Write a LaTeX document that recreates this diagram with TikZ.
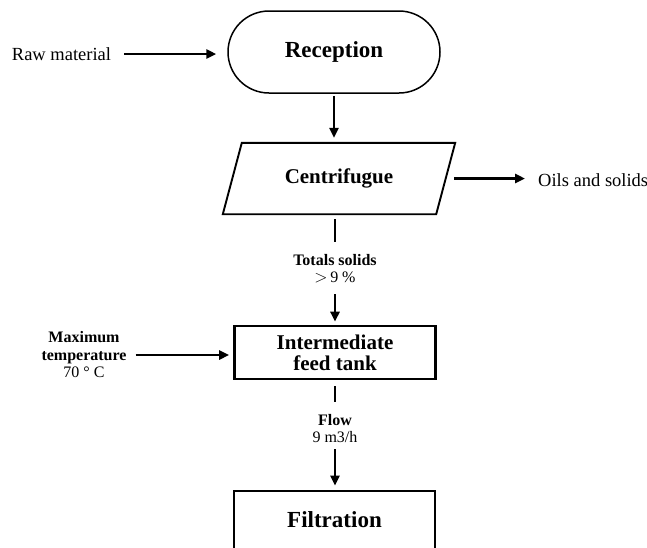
\documentclass[tikz,border=0pt]{standalone}
\usepackage{fontspec}
\setmainfont{Liberation Serif}
\usetikzlibrary{arrows.meta}
\begin{document}
\begin{tikzpicture}[x=1pt,y=-1pt,
  arr/.style={line width=2.7pt,-{Triangle[length=10pt,width=9pt]}},
  seg/.style={line width=2.7pt},
  lab/.style={inner sep=0pt,align=center,font=\fontsize{16}{17.5}\selectfont},
  side/.style={inner sep=0pt,font=\fontsize{18.5}{20}\selectfont},
  big/.style={font=\fontsize{21}{21}\selectfont\bfseries,align=center}]
\useasboundingbox (0,0) rectangle (647,547);
\clip (0,0) rectangle (647,547);
% nodes
\node[draw,line width=1.5pt,rounded corners=41pt,minimum width=212pt,minimum height=82pt,
  font=\fontsize{23}{23}\selectfont\bfseries] (rec) at (334,52) {Reception};
\node[side] (raw) at (61.5,54) {Raw material};
\node[big,minimum width=213pt,minimum height=71pt,inner sep=0pt] (cent) at (339,178.5) {Centrifugue};
\draw[line width=1.9pt,line join=miter]
  ([xshift=9.5pt]cent.north west) -- ([xshift=9.5pt]cent.north east) --
  ([xshift=-9.5pt]cent.south east) -- ([xshift=-9.5pt]cent.south west) -- cycle;
\node[side,anchor=west] (oils) at (538,180) {Oils and solids};
\node[lab,anchor=north] (ts) at (335,254) {\textbf{Totals solids}\\$>$\,9 \%};
\node[draw,line width=2.6pt,minimum width=201pt,minimum height=53pt,big] (tank) at (335,352.5)
  {Intermediate\\feed tank};
\node[lab] (temp) at (84,355) {\textbf{Maximum}\\\textbf{temperature}\\70 ° C};
\node[lab,anchor=north] (flow) at (335,414) {\textbf{Flow}\\9 m3/h};
\node[draw,line width=2.8pt,minimum width=201pt,minimum height=58pt,
  font=\fontsize{23}{23}\selectfont\bfseries] (filt) at (334.5,520) {Filtration};
% connectors
\draw[arr,shorten <=13pt,shorten >=11pt] (raw.east) -- (raw.east -| rec.west);
\draw[arr,shorten <=2pt,shorten >=5pt] (rec.south) -- (rec.south |- cent.north);
\draw[arr,shorten <=8.5pt,shorten >=13pt] (cent.east) -- (cent.east -| oils.west);
\draw[seg,shorten <=5pt,shorten >=12pt] (ts.north |- cent.south) -- (ts.north);
\draw[arr,shorten <=11pt,shorten >=3pt] (ts.south) -- (ts.south |- tank.north);
\draw[arr,shorten <=9pt,shorten >=4pt] (temp.east) -- (temp.east -| tank.west);
\draw[seg,shorten <=6pt,shorten >=12pt] (flow.north |- tank.south) -- (flow.north);
\draw[arr,shorten <=6pt,shorten >=4pt] (flow.south) -- (flow.south |- filt.north);
\end{tikzpicture}
\end{document}
